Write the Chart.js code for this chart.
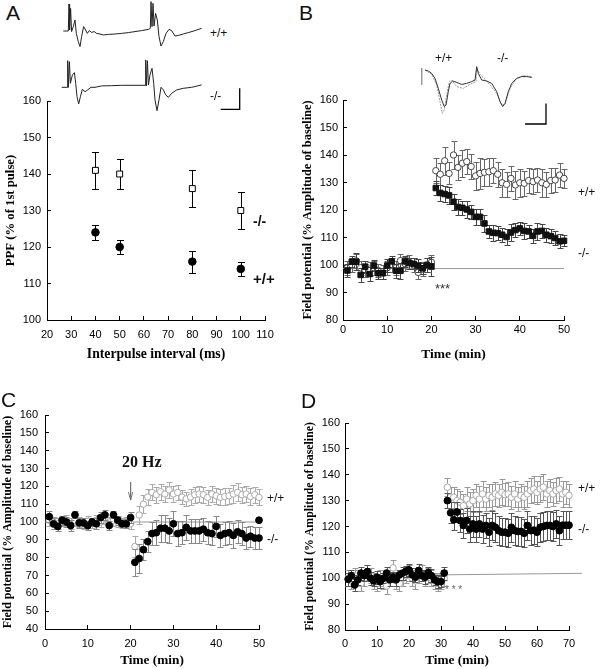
<!DOCTYPE html>
<html>
<head>
<meta charset="utf-8">
<title>Field potential figure</title>
<script src="https://cdn.jsdelivr.net/npm/chart.js@4.4.1/dist/chart.umd.min.js"></script>
<style>
  body { margin: 0; background: #fff; }
  #fig { position: relative; width: 600px; height: 669px; overflow: hidden; background: #fff;
         font-family: "Liberation Sans", Arial, sans-serif; color: #111; }
  #fig canvas { position: absolute; }
  .t { position: absolute; white-space: nowrap; line-height: 1; }
  .letter { font-size: 21px; }
  .g { font-size: 12px; }
  .gb { font-weight: bold; }
  .hz { font-family: "Liberation Serif", "Times New Roman", serif; font-weight: bold; font-size: 16px; }
  .stars { font-size: 13px; color: #333; }
</style>
</head>
<body>
<div id="fig">
  <canvas id="traceA1" width="150" height="50" style="left:60px;top:0px"></canvas>
  <canvas id="traceA2" width="190" height="60" style="left:58px;top:55px"></canvas>
  <canvas id="traceB" width="140" height="80" style="left:415px;top:50px"></canvas>
  <canvas id="chartA" width="300" height="285" style="left:0px;top:78px"></canvas>
  <canvas id="chartB" width="300" height="285" style="left:300px;top:78px"></canvas>
  <canvas id="chartC" width="300" height="274" style="left:0px;top:395px"></canvas>
  <canvas id="chartD" width="300" height="274" style="left:300px;top:395px"></canvas>

  <div class="t letter" style="left:6px;top:2px">A</div>
  <div class="t letter" style="left:299px;top:2px">B</div>
  <div class="t letter" style="left:1px;top:389px">C</div>
  <div class="t letter" style="left:301px;top:390px">D</div>

  <div class="t g" style="left:210px;top:27px">+/+</div>
  <div class="t g" style="left:210px;top:90px">-/-</div>
  <div class="t gb" style="left:253px;top:214px;font-size:14px">-/-</div>
  <div class="t gb" style="left:253px;top:271px;font-size:15px">+/+</div>

  <div class="t g" style="left:435px;top:52px">+/+</div>
  <div class="t g" style="left:497px;top:52px">-/-</div>
  <div class="t g" style="left:578px;top:186px">+/+</div>
  <div class="t g" style="left:578px;top:247px">-/-</div>
  <div class="t stars" style="left:435px;top:282px">***</div>

  <div class="t hz" style="left:122px;top:454px">20 Hz</div>
  <div class="t g" style="left:267px;top:492px">+/+</div>
  <div class="t g" style="left:267px;top:533px">-/-</div>

  <div class="t g" style="left:578px;top:482px">+/+</div>
  <div class="t g" style="left:578px;top:523px">-/-</div>
  <div class="t" style="left:445px;top:585px;font-size:10px;color:#666">* * *</div>
</div>

<script>
// ---------- A: paired-pulse facilitation ----------
const ppfInterval = [40, 50, 80, 100];
const ppfKO = [141, 140, 136, 130];
const ppfKOErr = [5, 4, 5, 5];
const ppfWT = [124, 120, 116, 114];
const ppfWTErr = [2, 2, 3, 2];

// example paired-pulse sweeps (ms, mV)
const traceWtA_ms = [0,5,5.7,6.3,7.3,8.3,10,11.7,13,15,16.7,18.3,20.3,22.3,24,26,28.3,31,33.3,36.7,40,45,51.7,58.3,65,71.7,78.3,85,87,87.7,88.7,89.7,90.7,92.3,94,95.7,97.7,100,102.7,105.7,108.3,111.7,115,120,125,131.7,138.3];
const traceWtA_mV = [0,0,1.35,0.05,1.13,-0.03,0.22,0.55,-0.12,-0.53,-0.78,-0.28,0.22,0.05,-0.12,0.02,-0.07,-0.03,-0.12,-0.15,-0.2,-0.17,-0.15,-0.12,-0.08,-0.03,0.02,0.08,0.13,1.47,0.22,1.38,0.25,0.88,0.55,-0.28,-0.75,-0.53,-0.12,0.08,0.02,-0.25,-0.22,-0.15,-0.08,0.02,0.13];
const traceKoA_ms = [0,5.3,6,6.7,7.7,8.7,10.7,12.7,14,15.3,17,18.7,20.7,23.3,26,29.3,33.3,40,50,60,73.3,83.3,84,84.7,85.7,86.7,88.3,90.3,92,93.3,95.3,97.3,99.3,101.7,104,106.7,110,115,121.7,130,140];
const traceKoA_mV = [0,0,1.33,0,1.28,0.2,0.62,0.73,0.2,-0.47,-0.83,-0.47,-0.1,-0.22,-0.13,0,0,0.07,0.08,0.1,0.1,0.1,1.37,0.07,1.33,0.12,0.62,0.95,0.2,-0.63,-1.17,-0.63,0,-0.13,-0.38,-0.5,-0.3,-0.13,-0.05,0,0.12];
const barA_ms = [159, 178, 178];
const barA_mV = [-1.1, -1.1, -0.05];

// ---------- B: tetanus LTP, 50 min ----------
const bTime = [1,2,3,4,5,6,7,8,9,10,11,12,13,14,15,16,17,18,19,20,21,22,23,24,25,26,27,28,29,30,31,32,33,34,35,36,37,38,39,40,41,42,43,44,45,46,47,48,49,50];
const bKO = [98,101.2,101.2,96.4,99.4,96.7,99.8,97,97,99.8,101.3,97.9,97.9,101.3,100.7,100.4,99.8,98.8,100,99.5,
             128,126.2,125.8,125.3,123,121.1,120.8,120.2,119.3,117.5,117.5,115.1,112.2,111.7,111.6,111,110.2,111.8,112.7,113.3,
             112.4,112.2,110.6,112.2,112.4,111,110.5,109.8,108.6,108.8];
const bKOErr = [2.5,2,3,2.5,2,2.5,2,2,2,2.5,2,2.5,3,2,2,2,2.5,2,2.5,3.5,
                2.5,3,3,3,3,3,2.5,3,2.5,3,3,3,2.5,3,2.5,2.5,3,3,2.5,2.5,3,2.5,2.5,3,2.5,2.5,2.5,2.5,2.5,2];
const bWT = [99,100,101.5,99,98,98.5,99,98,97.5,99,100,99,101.6,100.5,101,100,97.3,98.5,100,101,
             134.3,133,137.9,133.3,140,135.5,137,137.6,135.8,132.4,133.3,133.7,133.9,134.3,133,129.9,129.3,131.5,129.1,129.9,
             129.7,130.7,130.3,130.9,129.9,129.3,130.7,130.9,132.7,131.5];
const bWTErr = [2.5,2.5,2.5,2.5,2.5,2.5,2.5,2.5,2.5,2.5,2.5,2.5,2.5,2.5,2.5,2.5,2.5,2.5,2.5,2.5,
                4.5,4,5,4,5,4.5,5,4.5,4.5,5,5.5,5,5,4.5,4.5,5,4.5,4.5,5,5,4.5,4.5,4.5,4.5,5,4.5,4.5,4.5,4.5,3.5];
const bLineT = [0, 50];
const bLineV = [98.7, 98.7];

const traceBPre_ms = [0,3.3,6.7,10,13.3,16.7,19.3,21,23.3,25,27.7,31.7,36.7,41.7,46.7,50,51.7,53.3,56.7,61.7,66.7,71.7,75,77.7,80,83.3,86.7,91.7,96.7,101.7,106.7];
const traceBPre_mV = [0,-0.05,-0.17,-0.42,-0.92,-1.5,-1.83,-1.75,-1.08,-0.67,-0.55,-0.62,-0.72,-0.67,-0.58,-0.5,0.17,-0.17,-0.5,-0.55,-0.67,-1.08,-1.58,-1.83,-1.67,-1.08,-0.67,-0.42,-0.33,-0.33,-0.37];
const traceBPost_ms = [0,6.7,11.7,15,17.3,19.3,21.7,24.3,26.7,31.7,38.3,45,51,51.7,55,61.7,71.7,76.7,80,85,91.7,98.3,106.7];
const traceBPost_mV = [0,-0.22,-0.75,-1.58,-2.17,-2,-1.25,-0.58,-0.5,-0.83,-0.92,-0.72,-0.58,0.12,-0.22,-0.55,-1.17,-1.75,-1.72,-0.92,-0.42,-0.28,-0.33];
const artB_ms = [-3.3, -3.3];
const artB_mV = [0.1, -0.75];
const barB_ms = [100, 121, 121];
const barB_mV = [-2.7, -2.7, -1.67];

// ---------- C: 20 Hz stimulation ----------
const cTime = [1,2,3,4,5,6,7,8,9,10,11,12,13,14,15,16,17,18,19,20,21,22,23,24,25,26,27,28,29,30,31,32,33,34,35,36,37,38,39,40,41,42,43,44,45,46,47,48,49,50];
const cKOTime = [1,2,3,4,5,6,7,8,9,10,11,12,13,14,15,16,17,18,19,20,21,22,23,24,25,26,27,28,29,30,31,32,33,34,35,36,37,38,39,40,41,42,43,44,45,46,47,48,49,50,50];
const cKO = [103,99,97.5,101,100,98,104,99.5,99.5,98,100,99,102.5,104,98,104,101,99,99,102.5,
             77.4,79.5,84.5,89,93.5,94,96.5,96.5,95,99,93.5,94,97,95,95,95,96,94,93.5,97.5,
             92.5,93.5,94,92.5,94.5,93.5,91,92,91,91,101];
const cKOErr = [3,3,2.5,2.5,3,3,2,3,3,2.5,2.5,3,3,3,2.5,2,2.5,2,2.5,3,
                7.5,8,6,6,6.5,7,7.5,7.5,7,7,7,6.5,7,6.5,6.5,6.5,6.5,6.5,6.5,6,
                6.5,6.5,6.5,7,6.5,6.5,6,6,6,6,0];
const cWT = [101,100,99,100.5,101,99,101,100,99,100.5,99.5,101,100,102,100,101,100,99.5,100,99,
             86.3,103.9,110,114,116.6,115.3,117,115.7,118,115.7,116.6,114,113,114,115.3,115.7,115.3,113.8,115.7,114.7,
             113.8,114.3,114.7,115.7,116.6,115.3,115.7,114.3,115.3,113.8];
const cWTErr = [3,3,3,3,3,3,3,3,3,3,3,3,3,3,3,3,3,3,3,3,
                6,5,5,4.5,4.5,4.5,4.5,4.5,4.5,4.5,4,4,4,4.5,4.5,4.5,4.5,4,4.5,4.5,
                4.5,4.5,4.5,5,5,4.5,4.5,4.5,4.5,4.5];
const cLineT = [0, 50];
const cLineV = [100, 100];
const cArrowT = [20, 20];
const cArrowV = [122.4, 112.3];
const cHeadT = [19.5, 20, 20.5];
const cHeadV = [116.8, 112.3, 116.8];

// ---------- D: 70 min recording ----------
const dTime = [1,2,3,4,5,6,7,8,9,10,11,12,13,14,15,16,17,18,19,20,21,22,23,24,25,26,27,28,29,30,31,32,33,34,35,
               36,37,38,39,40,41,42,43,44,45,46,47,48,49,50,51,52,53,54,55,56,57,58,59,60,61,62,63,64,65,66,67,68,69,70];
const dKO = [99.6,101,97.4,99.4,102,101,102.6,100,99,100.4,98.7,100,102,99.4,100.4,99.4,101.3,102,102.6,103.2,
             101.3,100.4,103,101,100.4,102.2,101,99.4,98.7,98.7,102,
             130,125.3,122.6,125.6,122.3,120.4,122.3,119,121,119,121,119,120.4,117.8,120.4,119.7,118.4,117.8,117.8,
             117.4,119.7,118.4,118.1,118.1,117.4,120.4,118.4,118.6,117.8,119.7,120,120.4,120.4,120,121,118.4,120.5,120.5,120.5];
const dKOErr = [2.5,2,2.5,2,2.5,2,2.5,2.5,2,2.5,2.5,2,2.5,2.5,2,2.5,2,2.5,2,2.5,2.5,2,2.5,2,2.5,2,2.5,2,2.5,2,2.5,
                3,4,4,4,4.5,5,5,5,5,5,5,5.5,5,5.5,5.5,5.5,5.5,5.5,5.5,5.5,5.5,5.5,5.5,5.5,5.5,5.5,5.5,5.5,5.5,5.5,5.5,5.5,5.5,5.5,5.5,5.5,5.5,5.5,5.5];
const dWT = [100,99,101,100,98,100,102,101,99,98,100,99,97,100,104,99,98,100,101,102,100,99,101,102,100,101,100,99,98,99,100,
             135.2,131.3,131.3,130,129.4,128,130.6,128.7,130,132,130.6,132.6,130.6,132,131.3,132.6,132,133.2,132.3,
             132.6,131.3,132.6,130.6,132,131.3,132.6,133.9,134.5,133.2,134.5,135.2,132.6,133.9,132.6,133.9,134.5,132.6,133.2,132];
const dWTErr = [3,3,3,3,3,3,3,3,3,3,3,3,3,3,3,3,3,3,3,3,3,3,3,3,3,3,3,3,3,3,3,
                3.5,4,4,4.5,4.5,4.5,4.5,4.5,4.5,4.5,5,5,4.5,4.5,5,4.5,4.5,5,4.5,4.5,4.5,5,4.5,4.5,4.5,5,5,5,4.5,5,5,5,4.5,4.5,5,4.5,5,4.5,4.5];
const dLineT = [0, 74];
const dLineV = [100.9, 101.9];

const sans = '"Liberation Sans", Arial, sans-serif';
const serif = '"Liberation Serif", "Times New Roman", serif';

// error bars drawn under each dataset's own markers, through the y scale
const errorBars = {
    id: 'errorBars',
    beforeDatasetDraw(chart, args) {
        const ds = chart.data.datasets[args.index];
        if (!ds.errors) return;
        const y = chart.scales.y;
        const ctx = chart.ctx;
        ctx.save();
        ctx.strokeStyle = ds.errorColor;
        ctx.lineWidth = 1;
        args.meta.data.forEach((pt, i) => {
            const e = ds.errors[i];
            if (!e) return;
            const v = ds.data[i].y;
            const x = Math.round(pt.x) + 0.5;
            const top = Math.round(y.getPixelForValue(v + e)) + 0.5;
            const bot = Math.round(y.getPixelForValue(v - e)) + 0.5;
            const c = ds.capWidth;
            ctx.beginPath();
            ctx.moveTo(x, top); ctx.lineTo(x, bot);
            ctx.moveTo(x - c, top); ctx.lineTo(x + c, top);
            ctx.moveTo(x - c, bot); ctx.lineTo(x + c, bot);
            ctx.stroke();
        });
        ctx.restore();
    }
};

function pts(xs, ys) {
    return xs.map((x, i) => ({ x: x, y: ys[i] }));
}

function markers(xs, ys, errs, style) {
    return Object.assign({ data: pts(xs, ys), errors: errs, showLine: false, clip: false, pointBorderWidth: 1 }, style);
}

function line(xs, ys, color, width, dash) {
    return { data: pts(xs, ys), showLine: true, pointRadius: 0, borderColor: color, borderWidth: width || 1,
             borderDash: dash || [], clip: false, tension: 0 };
}

function axis(a, which) {
    return {
        type: 'linear',
        position: which === 'x' ? 'bottom' : 'left',
        min: a.min, max: a.max,
        afterFit: s => { if (which === 'x') s.height = a.size; else s.width = a.size; },
        border: { display: true, color: '#000', width: 1 },
        grid: { display: true, drawOnChartArea: false, drawTicks: true, tickLength: -4, color: '#000', lineWidth: 1 },
        ticks: { stepSize: a.step, padding: a.pad, color: '#000', autoSkip: false, maxRotation: 0,
                 font: { family: sans, size: 11 } },
        title: { display: true, text: a.title, color: '#000',
                 font: { family: serif, size: a.titleSize, weight: 'bold' },
                 padding: { top: a.titlePad || 0, bottom: 0 } }
    };
}

function panel(id, c) {
    return new Chart(document.getElementById(id), {
        type: 'scatter',
        data: { datasets: c.datasets },
        options: {
            responsive: false, animation: false, events: [],
            layout: { padding: { top: c.padTop, right: c.padRight, left: 0, bottom: 0 } },
            plugins: { legend: { display: false }, tooltip: { enabled: false } },
            scales: { x: axis(c.x, 'x'), y: axis(c.y, 'y') }
        },
        plugins: [errorBars]
    });
}

function trace(id, xr, yr, datasets) {
    return new Chart(document.getElementById(id), {
        type: 'scatter',
        data: { datasets: datasets },
        options: {
            responsive: false, animation: false, events: [],
            layout: { padding: 0 },
            plugins: { legend: { display: false }, tooltip: { enabled: false } },
            scales: {
                x: { type: 'linear', display: false, min: xr[0], max: xr[1] },
                y: { type: 'linear', display: false, min: yr[0], max: yr[1] }
            }
        }
    });
}

// inset sweeps
trace('traceA1', [-3.3, 146.7], [-0.95, 1.55], [
    line(traceWtA_ms, traceWtA_mV, '#222')
]);
trace('traceA2', [-3.7, 186.3], [-1.385, 1.615], [
    line(traceKoA_ms, traceKoA_mV, '#222'),
    line(barA_ms, barA_mV, '#000', 1.3)
]);
trace('traceB', [-10, 130], [-3, 1], [
    line(traceBPre_ms, traceBPre_mV, '#333'),
    line(traceBPost_ms, traceBPost_mV, '#999', 1, [2, 1]),
    line(artB_ms, artB_mV, '#999'),
    line(barB_ms, barB_mV, '#000', 1.3)
]);

panel('chartA', {
    padTop: 23, padRight: 35,
    x: { min: 20, max: 110, step: 10, size: 43, pad: 12, title: 'Interpulse interval (ms)', titleSize: 13.7 },
    y: { min: 100, max: 160, step: 10, size: 47, pad: 10, title: 'PPF (% of 1st pulse)', titleSize: 12.7, titlePad: 3 },
    datasets: [
        markers(ppfInterval, ppfWT, ppfWTErr, { pointStyle: 'circle', pointRadius: 3.8,
            pointBackgroundColor: '#000', pointBorderColor: '#000', errorColor: '#000', capWidth: 3.5 }),
        markers(ppfInterval, ppfKO, ppfKOErr, { pointStyle: 'rect', pointRadius: 4.2,
            pointBackgroundColor: '#fff', pointBorderColor: '#000', errorColor: '#000', capWidth: 3.5 })
    ]
});

panel('chartB', {
    padTop: 22, padRight: 36,
    x: { min: 0, max: 50, step: 10, size: 43, pad: 7, title: 'Time (min)', titleSize: 13.5 },
    y: { min: 80, max: 160, step: 10, size: 43, pad: 9, title: 'Field potential (% Amplitude of baseline)', titleSize: 12.4, titlePad: 0 },
    datasets: [
        markers(bTime, bKO, bKOErr, { pointStyle: 'rect', pointRadius: 3.9,
            pointBackgroundColor: '#111', pointBorderColor: '#111', errorColor: '#444', capWidth: 3 }),
        markers(bTime, bWT, bWTErr, { pointStyle: 'circle', pointRadius: 3.2,
            pointBackgroundColor: '#fff', pointBorderColor: '#444', errorColor: '#666', capWidth: 3 }),
        line(bLineT, bLineV, '#999')
    ]
});

panel('chartC', {
    padTop: 20, padRight: 41,
    x: { min: 0, max: 50, step: 10, size: 40, pad: 12, title: 'Time (min)', titleSize: 13.3 },
    y: { min: 40, max: 160, step: 10, size: 45, pad: 11, title: 'Field potential (% Amplitude of baseline)', titleSize: 12, titlePad: 1 },
    datasets: [
        line(cArrowT, cArrowV, '#777'),
        line(cHeadT, cHeadV, '#777'),
        markers(cKOTime, cKO, cKOErr, { pointStyle: 'circle', pointRadius: 3.4,
            pointBackgroundColor: '#000', pointBorderColor: '#000', errorColor: '#888', capWidth: 3 }),
        markers(cTime, cWT, cWTErr, { pointStyle: 'circle', pointRadius: 3.2,
            pointBackgroundColor: '#fff', pointBorderColor: '#aaa', errorColor: '#aaa', capWidth: 3 }),
        line(cLineT, cLineV, '#999')
    ]
});

panel('chartD', {
    padTop: 28, padRight: 31,
    x: { min: 0, max: 70, step: 10, size: 39, pad: 11, title: 'Time (min)', titleSize: 13.3 },
    y: { min: 80, max: 160, step: 10, size: 45, pad: 9, title: 'Field potential (% Amplitude of baseline)', titleSize: 11.8, titlePad: 3 },
    datasets: [
        markers(dTime, dKO, dKOErr, { pointStyle: 'circle', pointRadius: 3.4,
            pointBackgroundColor: '#000', pointBorderColor: '#000', errorColor: '#555', capWidth: 3 }),
        markers(dTime, dWT, dWTErr, { pointStyle: 'circle', pointRadius: 3.3,
            pointBackgroundColor: '#fff', pointBorderColor: '#aaa', errorColor: '#999', capWidth: 3 }),
        line(dLineT, dLineV, '#999')
    ]
});
</script>
</body>
</html>
